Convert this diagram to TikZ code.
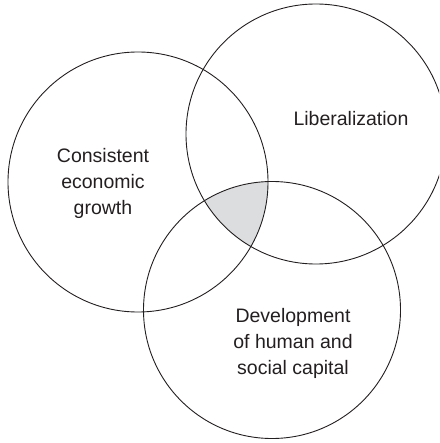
\documentclass[tikz,border=0pt]{standalone}
\usepackage{fontspec}
\setmainfont{Liberation Sans}
\definecolor{ink}{HTML}{231F20}
\definecolor{overlap}{HTML}{DCDDDF}
\begin{document}
\begin{tikzpicture}[x=1pt,y=-1pt,
  ring/.style={draw=ink,line width=0.9pt},
  label/.style={text=ink,align=center,inner sep=0pt,
    font=\fontsize{19.5}{26}\selectfont}]
  \useasboundingbox (0,0) rectangle (439,443);
  \clip (0,0) rectangle (439,443);
  % circle centres
  \coordinate (growth) at (138,182);
  \coordinate (liberal) at (316,134);
  \coordinate (capital) at (272,310);
  % shaded region shared by all three sets
  \begin{scope}
    \clip (growth) circle[radius=130];
    \clip (liberal) circle[radius=130];
    \fill[overlap] (capital) circle[radius=128.5];
  \end{scope}
  \draw[ring] (growth) circle[radius=130];
  \draw[ring] (liberal) circle[radius=130];
  \draw[ring] (capital) circle[radius=128.5];
  % set labels
  \node[label,anchor=base] (tl) at (351,126) {Liberalization};
  \node[label] (tg) at (103,183) {Consistent\\economic\\growth};
  \node[label] (tc) at (293,343) {Development\\of human and\\social capital};
\end{tikzpicture}
\end{document}
